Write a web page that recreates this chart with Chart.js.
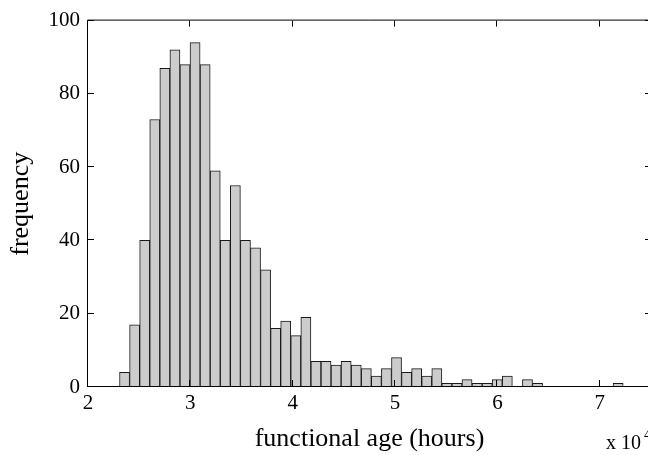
<!DOCTYPE html>
<html>
<head>
<meta charset="utf-8">
<script src="https://cdn.jsdelivr.net/npm/chart.js@4/dist/chart.umd.min.js"></script>
<style>
html, body { margin: 0; padding: 0; background: #fff; overflow: hidden; }
canvas { display: block; }
</style>
</head>
<body>
<canvas id="chart" width="660" height="455"></canvas>
<script>
// histogram of functional age, 50 equal bins (x in units of 10^4 hours)
const binStart = 2.308;
const binWidth = 0.0984;
const counts = [4, 17, 40, 73, 87, 92, 88, 94, 88, 59,
    40, 55, 40, 38, 32, 16, 18, 14, 19, 7,
    7, 6, 7, 6, 5, 3, 5, 8, 4, 5,
    3, 5, 1, 1, 2, 1, 1, 2, 3, 0,
    2, 1, 0, 0, 0, 0, 0, 0, 0, 1];
const xTicks = [2, 3, 4, 5, 6, 7];
const yTicks = [0, 20, 40, 60, 80, 100];

const binCenters = counts.map((c, i) => +(binStart + binWidth * (i + 0.5)).toFixed(4));
const serif = "'Liberation Serif', 'Times New Roman', serif";

// matlab look: closed box, ticks pointing inwards, "x 10^4" under the right end
const boxPlugin = {
    id: 'box',
    afterDatasetsDraw(chart) {
        const {ctx, chartArea: a, scales: {x, y}} = chart;
        ctx.save();
        ctx.strokeStyle = '#000';
        ctx.lineWidth = 1;
        ctx.beginPath();
        ctx.rect(a.left - 0.5, a.top - 0.5, a.right - a.left + 1, a.bottom - a.top);
        xTicks.forEach(v => {
            const px = Math.round(x.getPixelForValue(v)) - 0.5;
            ctx.moveTo(px, a.bottom); ctx.lineTo(px, a.bottom - 7);
            ctx.moveTo(px, a.top); ctx.lineTo(px, a.top + 6);
        });
        yTicks.forEach(v => {
            const py = Math.round(y.getPixelForValue(v)) - 0.5;
            ctx.moveTo(a.left, py); ctx.lineTo(a.left + 6, py);
            ctx.moveTo(a.right, py); ctx.lineTo(a.right - 6, py);
        });
        ctx.stroke();
        ctx.fillStyle = '#000';
        ctx.textBaseline = 'alphabetic';
        ctx.font = '20px ' + serif;
        ctx.fillText('x 10', a.right - 45, 449);
        ctx.font = '14px ' + serif;
        ctx.fillText('4', a.right - 7, 439);
        ctx.restore();
    }
};

const ctx = document.querySelector('#chart').getContext('2d');
const chart = new Chart(ctx, {
    type: 'bar',
    data: {
        datasets: [{
            label: 'frequency',
            data: binCenters.map((c, i) => ({x: c, y: counts[i]})),
            backgroundColor: '#cccccc',
            borderColor: '#1a1a1a',
            borderWidth: 1,
            barPercentage: 1,
            categoryPercentage: 1
        }]
    },
    options: {
        responsive: false,
        animation: false,
        layout: {
            padding: {top: 16, right: 9, left: 0, bottom: 0}
        },
        plugins: {
            legend: {display: false},
            tooltip: {enabled: false}
        },
        scales: {
            x: {
                type: 'linear',
                min: 2,
                max: 7.5,
                offset: false,
                afterBuildTicks: s => { s.ticks = xTicks.map(v => ({value: v})); },
                afterFit: s => { s.height = 68; },
                grid: {display: false, drawTicks: false},
                border: {display: false},
                ticks: {color: '#000', font: {family: serif, size: 21}, padding: 4, maxRotation: 0},
                title: {
                    display: true,
                    text: 'functional age (hours)',
                    color: '#000',
                    font: {family: serif, size: 26},
                    padding: {top: 0, bottom: 0}
                }
            },
            y: {
                min: 0,
                max: 100,
                afterBuildTicks: s => { s.ticks = yTicks.map(v => ({value: v})); },
                afterFit: s => { s.width = 88; },
                grid: {display: false, drawTicks: false},
                border: {display: false},
                ticks: {color: '#000', font: {family: serif, size: 21}, padding: 8},
                title: {
                    display: true,
                    text: 'frequency',
                    color: '#000',
                    font: {family: serif, size: 26},
                    padding: {top: 6, bottom: 0}
                }
            }
        }
    },
    plugins: [boxPlugin]
});
</script>
</body>
</html>
